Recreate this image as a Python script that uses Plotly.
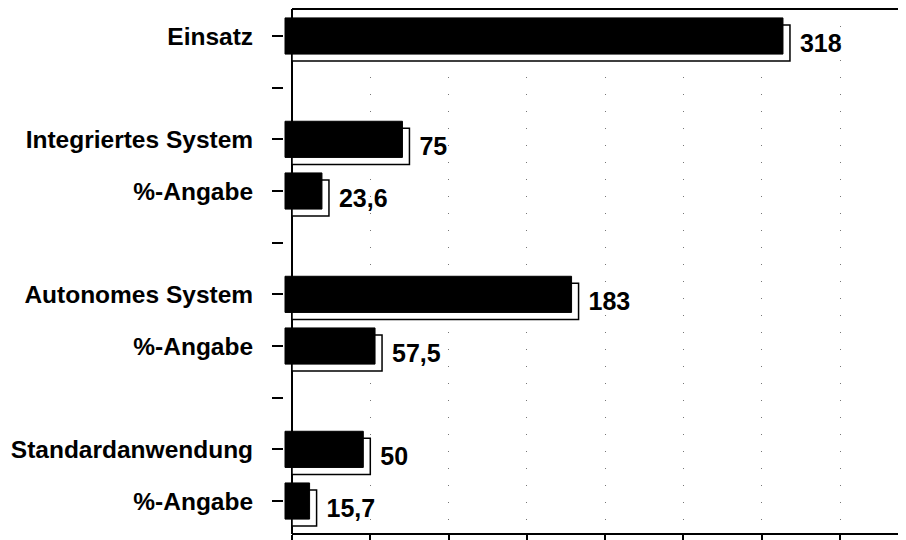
import plotly.graph_objects as go

# ---- data ----
labels = ["Einsatz", "", "Integriertes System", "%-Angabe", "",
          "Autonomes System", "%-Angabe", "", "Standardanwendung", "%-Angabe"]
values = [318, None, 75, 23.6, None, 183, 57.5, None, 50, 15.7]
x_ticks = [0, 50, 100, 150, 200, 250, 300, 350]

slots = list(range(len(labels)))


def fmt(v):
    if v is None:
        return ""
    s = f"{v:g}".replace(".", ",")
    return " " + s


texts = [fmt(v) for v in values]

FONT = "Liberation Sans, Arial, Helvetica, sans-serif"
BAR_W = 0.70

# page body has an 8px default margin -> figure is 8px smaller and offset
PAGE_OFF = 8
FIG_W = 906 - PAGE_OFF
FIG_H = 540 - PAGE_OFF

# pixel geometry helpers (axis ranges only)
PX_PER_UNIT = 1.566
DEPTH_X = 7 / PX_PER_UNIT          # depth offset in data units (x)
SLOT_PX = 51.67
DEPTH_Y = 7 / SLOT_PX              # depth offset in slots (y)

x_back = [-5.11, 392.1]
x_front = [x_back[0] + DEPTH_X, x_back[1] + DEPTH_X]
y_front = [9.638, -0.5225]
y_back = [y_front[0] - DEPTH_Y, y_front[1] - DEPTH_Y]

fig = go.Figure()

# back (side) face: white box, shifted right/down
fig.add_trace(go.Bar(
    y=slots, x=values, orientation="h", width=BAR_W,
    marker=dict(color="white", line=dict(color="black", width=1.5)),
    text=texts, textposition="outside", cliponaxis=False,
    textfont=dict(family=FONT, size=25, color="black", weight="bold"),
    xaxis="x", yaxis="y", hoverinfo="skip", showlegend=False,
))

# front face: black
fig.add_trace(go.Bar(
    y=slots, x=values, orientation="h", width=BAR_W,
    marker=dict(color="black", line=dict(color="black", width=1)),
    xaxis="x2", yaxis="y2", hoverinfo="skip", showlegend=False,
))

fig.update_layout(
    width=FIG_W, height=FIG_H,
    margin=dict(l=284 - PAGE_OFF, r=0, t=1, b=6, autoexpand=False),
    paper_bgcolor="white", plot_bgcolor="white",
    barmode="overlay",
    xaxis=dict(
        range=x_back, tickvals=x_ticks, showticklabels=False,
        ticks="outside", ticklen=10, tickwidth=2, tickcolor="black",
        showline=False, automargin=False,
        showgrid=True, gridcolor="#777777", gridwidth=1, griddash="1px,16px",
        zeroline=True, zerolinecolor="black", zerolinewidth=2,
    ),
    xaxis2=dict(
        range=x_front, overlaying="x", visible=False, automargin=False,
    ),
    yaxis=dict(
        range=y_back, visible=False, showgrid=False, zeroline=False,
        automargin=False,
    ),
    yaxis2=dict(
        range=y_front, overlaying="y", side="left", anchor="x2",
        tickvals=slots, ticktext=labels, automargin=False,
        ticks="outside", ticklen=11, tickwidth=2, tickcolor="black",
        ticklabelstandoff=14,
        tickfont=dict(family=FONT, size=24.5, color="black", weight="bold"),
        showgrid=False, zeroline=False, showline=False,
    ),
    shapes=[
        dict(type="line", xref="x", yref="paper", x0=0, x1=x_back[1],
             y0=1, y1=1, line=dict(color="black", width=2)),
        dict(type="line", xref="x", yref="paper", x0=0, x1=x_back[1],
             y0=0, y1=0, line=dict(color="black", width=2)),
    ],
)

fig.write_html("out.html")
